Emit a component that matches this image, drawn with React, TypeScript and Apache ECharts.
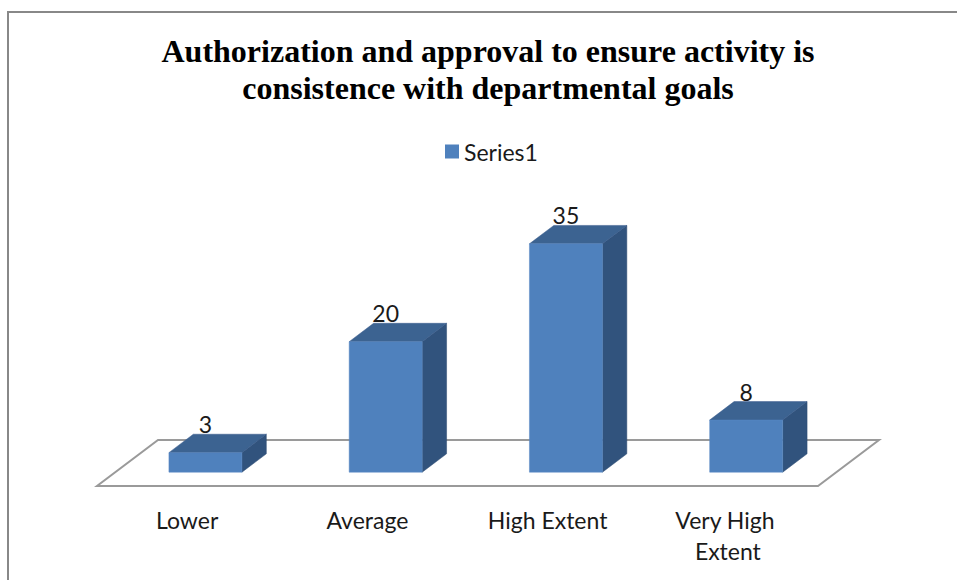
import React, { useEffect, useRef } from "react";
import * as echarts from "echarts";

const titleText = "Authorization and approval to ensure activity is\nconsistence with departmental goals";
const categories = ["Lower", "Average", "High Extent", "Very High Extent"];
const seriesName = "Series1";
const values = [3, 20, 35, 8];
const valueMax = 40;

// 3D projection constants (pixel offsets of the floor depth)
const DEPTH_X = 61;
const DEPTH_Y = -46;
const BAR_FRONT = 0.3;
const BAR_DEPTH = 0.4;
const BAR_WIDTH = 0.405;

const FRONT_COLOR = "#4F81BD";
const TOP_COLOR = "#3C6391";
const SIDE_COLOR = "#31537D";
const LABEL_FONT = "Lato";

export default function App() {
  const ref = useRef<HTMLDivElement>(null);
  useEffect(() => {
    if (!ref.current) return;
    const chart = echarts.init(ref.current, undefined, { renderer: "svg" });
    const option: any = {
      animation: false,
      backgroundColor: "#ffffff",
      legend: {
        data: [{ name: seriesName, icon: "rect" }],
        left: 440,
        top: 135,
        itemWidth: 14,
        itemHeight: 14,
        textStyle: { fontFamily: LABEL_FONT, fontSize: 23, color: "#1a1a1a" },
      },
      graphic: [
        {
          type: "rect",
          shape: { x: 8, y: 12, width: 990, height: 620 },
          style: { fill: "none", stroke: "#888888", lineWidth: 2 },
          silent: true,
          z: -10,
        },
        {
          type: "text",
          x: 488,
          y: 32,
          style: {
            text: titleText,
            align: "center",
            verticalAlign: "top",
            fontFamily: "Liberation Serif",
            fontWeight: "bold",
            fontSize: 32,
            lineHeight: 37,
            fill: "#000",
          },
        },
      ],
      grid: { left: 97, right: 139, top: 225, bottom: 94 },
      xAxis: {
        type: "category",
        data: categories,
        axisLine: { show: false },
        axisTick: { show: false },
        splitLine: { show: false },
        axisLabel: {
          interval: 0,
          margin: 18,
          fontFamily: LABEL_FONT,
          fontSize: 23,
          lineHeight: 31,
          color: "#1a1a1a",
          width: 150,
          overflow: "break",
        },
      },
      yAxis: {
        type: "value",
        min: 0,
        max: valueMax,
        show: false,
        splitLine: { show: false },
      },
      series: [
        {
          name: "floor",
          type: "custom",
          z: 1,
          silent: true,
          data: [[0, 0]],
          renderItem: (params: any) => {
            const cs = params.coordSys;
            const fl = [cs.x, cs.y + cs.height];
            const fr = [cs.x + cs.width, cs.y + cs.height];
            return {
              type: "polygon",
              shape: {
                points: [
                  fl,
                  fr,
                  [fr[0] + DEPTH_X, fr[1] + DEPTH_Y],
                  [fl[0] + DEPTH_X, fl[1] + DEPTH_Y],
                ],
              },
              style: { fill: "#ffffff", stroke: "#9a9a9a", lineWidth: 2 },
            };
          },
        },
        {
          name: seriesName,
          type: "custom",
          z: 2,
          itemStyle: { color: FRONT_COLOR },
          encode: { x: 0, y: 1 },
          data: values.map((v, i) => [i, v]),
          renderItem: (params: any, api: any) => {
            const base = api.coord([api.value(0), 0]);
            const topPt = api.coord([api.value(0), api.value(1)]);
            const bw = api.size([1, 0])[0];
            const w = bw * BAR_WIDTH;
            const fx = DEPTH_X * BAR_FRONT;
            const fy = DEPTH_Y * BAR_FRONT;
            const dx = DEPTH_X * BAR_DEPTH;
            const dy = DEPTH_Y * BAR_DEPTH;
            const xl = base[0] + fx - w / 2;
            const xr = xl + w;
            const yb = base[1] + fy;
            const yt = topPt[1] + fy;
            return {
              type: "group",
              children: [
                {
                  type: "polygon",
                  shape: {
                    points: [
                      [xr, yt],
                      [xr + dx, yt + dy],
                      [xr + dx, yb + dy],
                      [xr, yb],
                    ],
                  },
                  style: { fill: SIDE_COLOR, stroke: "#2c4a70", lineWidth: 0.5 },
                },
                {
                  type: "polygon",
                  shape: {
                    points: [
                      [xl, yt],
                      [xr, yt],
                      [xr + dx, yt + dy],
                      [xl + dx, yt + dy],
                    ],
                  },
                  style: { fill: TOP_COLOR, stroke: "#36598a", lineWidth: 0.5 },
                },
                {
                  type: "rect",
                  shape: { x: xl, y: yt, width: w, height: yb - yt },
                  style: { fill: FRONT_COLOR, stroke: "#5a8bc6", lineWidth: 0.5 },
                },
                {
                  type: "text",
                  style: {
                    text: String(api.value(1)),
                    x: (xl + xr) / 2,
                    y: yt + dy - 10,
                    align: "center",
                    verticalAlign: "middle",
                    fontFamily: LABEL_FONT,
                    fontSize: 23,
                    fill: "#1a1a1a",
                  },
                },
              ],
            };
          },
        },
      ],
    };
    chart.setOption(option);
    return () => chart.dispose();
  }, []);
  return (
    <div
      ref={ref}
      style={{ position: "fixed", left: 0, top: 0, width: 957, height: 580 }}
    />
  );
}
